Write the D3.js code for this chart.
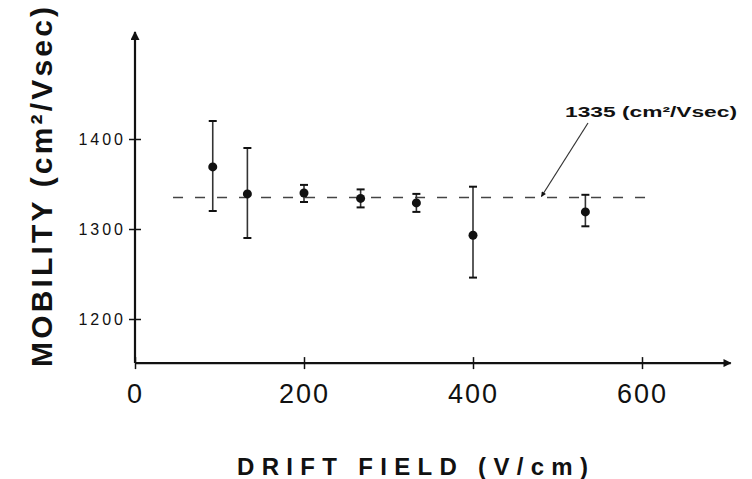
<!DOCTYPE html>
<html>
  <head>
    <meta charset="UTF-8">
    <title>Mobility vs Drift Field</title>
    <style>
      body {margin: 0; background: #fff}
      svg {display: block}
      text {font-family: "Liberation Sans", Arial, sans-serif; fill: #111}
      .xtick text {font-size: 27px; letter-spacing: 2px}
      .ytick text {font-size: 16px; letter-spacing: 3px}
      .title {font-weight: bold}
    </style>
  </head>
  <body>
    <div id="chart"></div>
    <script src="https://d3js.org/d3.v7.min.js"></script>
    <script>

// drift field (V/cm)
const field = [92, 133, 200, 267, 333, 400, 533];
// mobility (cm2/Vsec) with error bar ends
const mobility = [1369, 1339, 1340, 1334, 1329, 1293, 1319];
const errTop = [1420, 1390, 1349, 1344, 1339, 1347, 1338];
const errBottom = [1320, 1290, 1330, 1324, 1319, 1246, 1303];

const xTicks = [0, 200, 400, 600];
const yTicks = [1200, 1300, 1400];
const meanValue = 1335;
const meanRange = [45, 612];

const width = 752, height = 479;

const svg = d3.select("#chart").append("svg")
  .attr("width", width).attr("height", height);

const x = d3.scaleLinear().domain([0, 600]).range([135, 642]);
const y = d3.scaleLinear().domain([1200, 1400]).range([319, 139]);

const defs = svg.append("defs");
function marker(id, w, h) {
  defs.append("marker")
    .attr("id", id)
    .attr("viewBox", "0 0 10 10")
    .attr("refX", 9).attr("refY", 5)
    .attr("markerWidth", w).attr("markerHeight", h)
    .attr("markerUnits", "userSpaceOnUse")
    .attr("orient", "auto")
    .append("path").attr("d", "M0,0 L10,5 L0,10 Z").attr("fill", "#111");
}
marker("arrow", 13, 5);
marker("arrowY", 26, 9);
marker("arrowX", 24, 8);

// axis lines with arrows
const yBase = 1151;
svg.append("line")
  .attr("x1", x(0)).attr("x2", x(705))
  .attr("y1", y(yBase)).attr("y2", y(yBase))
  .attr("stroke", "#111").attr("stroke-width", 2.2)
  .attr("marker-end", "url(#arrowX)");
svg.append("line")
  .attr("x1", x(0)).attr("x2", x(0))
  .attr("y1", y(yBase)).attr("y2", y(1519))
  .attr("stroke", "#111").attr("stroke-width", 2.2)
  .attr("marker-end", "url(#arrowY)");

// x ticks
const gx = svg.append("g")
  .attr("class", "xtick")
  .attr("transform", `translate(0,${y(yBase)})`)
  .call(d3.axisBottom(x).tickValues(xTicks).tickSize(6).tickPadding(15));
gx.select(".domain").remove();
gx.selectAll(".tick line").attr("y1", -6).attr("stroke", "#111").attr("stroke-width", 1.5);
gx.selectAll(".tick text").attr("font-family", null).attr("font-size", null);

// y ticks
const gy = svg.append("g")
  .attr("class", "ytick")
  .attr("transform", `translate(${x(0)},0)`)
  .call(d3.axisLeft(y).tickValues(yTicks).tickFormat(d3.format("d")).tickSize(6).tickPadding(3));
gy.select(".domain").remove();
gy.selectAll(".tick line").attr("x1", 6).attr("stroke", "#111").attr("stroke-width", 1.5);
gy.selectAll(".tick text").attr("font-family", null).attr("font-size", null);

// mean dashed line
svg.append("line")
  .attr("x1", x(meanRange[0])).attr("x2", x(meanRange[1]))
  .attr("y1", y(meanValue)).attr("y2", y(meanValue))
  .attr("stroke", "#444").attr("stroke-width", 1.6)
  .attr("stroke-dasharray", "10,12");

// error bars
const pts = field.map((f, i) => ({f, m: mobility[i], hi: errTop[i], lo: errBottom[i]}));
const eb = svg.append("g").selectAll("g").data(pts).join("g");
eb.append("line")
  .attr("x1", d => x(d.f)).attr("x2", d => x(d.f))
  .attr("y1", d => y(d.hi)).attr("y2", d => y(d.lo))
  .attr("stroke", "#333").attr("stroke-width", 1.6);
eb.append("line")
  .attr("x1", d => x(d.f) - 4).attr("x2", d => x(d.f) + 4)
  .attr("y1", d => y(d.hi)).attr("y2", d => y(d.hi))
  .attr("stroke", "#111").attr("stroke-width", 2);
eb.append("line")
  .attr("x1", d => x(d.f) - 4).attr("x2", d => x(d.f) + 4)
  .attr("y1", d => y(d.lo)).attr("y2", d => y(d.lo))
  .attr("stroke", "#111").attr("stroke-width", 2);
eb.append("circle")
  .attr("cx", d => x(d.f)).attr("cy", d => y(d.m))
  .attr("r", 4.5).attr("fill", "#111");

// annotation
svg.append("line")
  .attr("x1", 588).attr("y1", 123)
  .attr("x2", x(481)).attr("y2", y(meanValue) - 1)
  .attr("stroke", "#333").attr("stroke-width", 1.2)
  .attr("marker-end", "url(#arrow)");
svg.append("text")
  .attr("x", 565).attr("y", 117)
  .attr("textLength", 172).attr("lengthAdjust", "spacingAndGlyphs")
  .style("font-size", "14px").style("font-weight", "bold")
  .text("1335 (cm²/Vsec)");

// axis titles
svg.append("text")
  .attr("class", "title")
  .attr("x", 237).attr("y", 475)
  .attr("textLength", 351).attr("lengthAdjust", "spacing")
  .style("font-size", "24px")
  .text("DRIFT FIELD (V/cm)");

svg.append("text")
  .attr("class", "title")
  .attr("transform", "rotate(-90)")
  .attr("x", -367).attr("y", 52)
  .attr("textLength", 360).attr("lengthAdjust", "spacing")
  .style("font-size", "30px")
  .text("MOBILITY (cm²/Vsec)");

    </script>
  </body>
</html>
